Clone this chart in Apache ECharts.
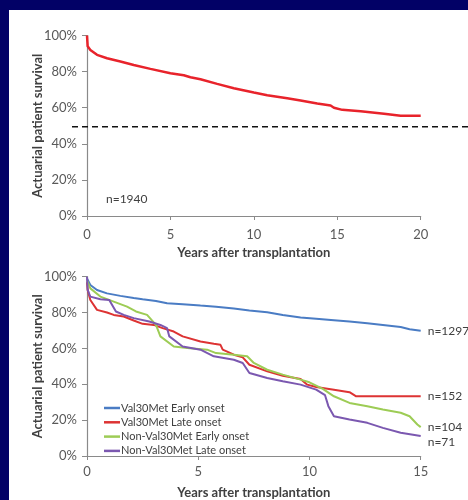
<!DOCTYPE html>
<html>
<head>
<meta charset="utf-8">
<script src="https://cdn.jsdelivr.net/npm/echarts@6/dist/echarts.min.js"></script>
<style>
  html, body { margin: 0; padding: 0; background: #020166; }
  #panel { position: absolute; left: 9px; top: 10px; width: 459px; height: 490px; background: #fff; }
  #chart { position: absolute; left: 0; top: 0; width: 468px; height: 500px; }
</style>
</head>
<body>
<div id="panel"></div>
<div id="chart"></div>
<script>
// top panel: all patients
const allYears = [0, 0.04, 0.2, 0.6, 1.2, 2.0, 2.8, 3.8, 5.0, 5.8, 6.2, 6.8, 7.8, 8.8, 10, 10.8, 12, 12.8, 13.8, 14.6, 14.8, 15.3, 16.4, 17.8, 18.8, 20]
const allSurvival = [100, 94, 92, 89.3, 87.4, 85.6, 83.7, 81.5, 79.1, 78, 76.9, 75.8, 73.2, 70.8, 68.4, 66.9, 65.2, 64, 62.3, 61.2, 60, 58.8, 58, 56.6, 55.5, 55.5]
const refLevel = 49.4

// bottom panel: subgroups
const blueYears = [0, 0.15, 0.45, 0.9, 1.5, 2.1, 2.5, 3.1, 3.6, 4.3, 5.1, 5.8, 6.6, 7.3, 8.1, 8.8, 9.6, 10.3, 11.1, 11.8, 12.6, 13.3, 14.1, 14.5, 15]
const blueSurv = [99, 95.4, 92.6, 90.7, 89.3, 88.1, 87.4, 86.5, 85.2, 84.6, 83.9, 83.3, 82.2, 81.1, 80.2, 78.7, 77.2, 76.5, 75.7, 75, 74.1, 73.1, 71.9, 70.7, 69.8]
const redYears = [0, 0.03, 0.15, 0.45, 0.9, 1.2, 1.65, 2.1, 2.5, 3.0, 3.4, 3.9, 4.3, 5.1, 5.7, 6.0, 6.1, 6.6, 7.0, 7.3, 8.1, 8.8, 9.6, 9.9, 10.3, 11.1, 11.8, 12.1, 12.6, 15]
const redSurv = [97, 92.6, 87, 81.5, 80, 78.7, 77.8, 75.6, 73.7, 73.1, 71.3, 69.4, 66.7, 63.9, 62.6, 62, 59.3, 56.5, 55, 50.9, 47.2, 44.8, 43, 39.8, 38.5, 37, 35.6, 33.3, 33.3, 33.3]
const greenYears = [0, 0.15, 0.6, 1.2, 1.8, 2.2, 2.7, 3.1, 3.3, 3.9, 4.5, 5.4, 5.8, 6.6, 7.2, 7.5, 8.1, 8.8, 9.6, 10.0, 10.6, 11.1, 11.8, 12.6, 13.3, 14.1, 14.5, 14.85, 15]
const greenSurv = [98, 93.5, 88.9, 86.1, 83.3, 80.6, 78.7, 73.1, 66.7, 61.1, 60.2, 59.3, 57.4, 56.5, 55.6, 51.9, 48.1, 45.4, 42.6, 41.1, 37.4, 33.3, 29.6, 27.8, 25.9, 24.1, 22.2, 17.6, 16.1]
const purpleYears = [0, 0.03, 0.15, 0.6, 1.0, 1.3, 1.65, 2.1, 2.8, 3.3, 3.6, 3.7, 4.3, 5.1, 5.7, 6.6, 7.0, 7.3, 8.1, 8.8, 9.6, 10.3, 10.7, 10.85, 11.1, 11.8, 12.6, 13.3, 14.1, 15]
const purpleSurv = [100, 92.6, 88.9, 87.4, 87, 80.6, 78.7, 76.9, 75, 73.1, 71.3, 66.7, 61.1, 59.3, 55.6, 53.7, 51.9, 46.3, 43.5, 41.7, 39.8, 37, 33.9, 27.8, 22.2, 20.4, 18.5, 15.7, 13, 11.1]

const groupNames = ['Val30Met Early onset', 'Val30Met Late onset', 'Non-Val30Met Early onset', 'Non-Val30Met Late onset']
const groupCounts = ['n=1297', 'n=152', 'n=104', 'n=71']
const groupColors = ['#4a7cc4', '#dd3333', '#9dcc55', '#7b58b0']

const pairs = (xs, ys) => xs.map((x, i) => [x, ys[i]])

const font = 'Lato, "Open Sans", sans-serif'
const axisColor = '#8a8a8a'
const labelColor = '#595959'

function xAxisCfg(gridIndex, max, labelMargin) {
  return {
    type: 'value', gridIndex, min: 0, max, interval: 5,
    name: 'Years after transplantation', nameLocation: 'middle', nameGap: 30,
    nameTextStyle: { fontFamily: font, fontSize: 13, fontWeight: 'bold', color: '#404040' },
    axisLine: { lineStyle: { color: axisColor, width: 1.2 } },
    axisTick: { show: true, length: 4, lineStyle: { color: axisColor } },
    axisLabel: { fontFamily: font, fontSize: 13, color: labelColor, margin: labelMargin },
    splitLine: { show: false },
  }
}

function yAxisCfg(gridIndex) {
  return {
    type: 'value', gridIndex, min: 0, max: 100, interval: 20,
    name: 'Actuarial patient survival', nameLocation: 'middle', nameGap: 43,
    nameMoveOverlap: false,
    nameTextStyle: { fontFamily: font, fontSize: 13, fontWeight: 'bold', color: '#404040' },
    axisLine: { show: true, lineStyle: { color: axisColor, width: 1.2 } },
    axisTick: { show: true, length: 5, lineStyle: { color: axisColor } },
    axisLabel: { fontFamily: font, fontSize: 13, color: labelColor, margin: 10, formatter: '{value}%' },
    splitLine: { show: false },
  }
}

const chart = echarts.init(document.getElementById('chart'))

const groupSeries = [
  [blueYears, blueSurv], [redYears, redSurv], [greenYears, greenSurv], [purpleYears, purpleSurv],
].map(([xs, ys], i) => ({
  type: 'line', name: groupNames[i], xAxisIndex: 2, yAxisIndex: 2,
  data: pairs(xs, ys), symbol: 'none', silent: true,
  lineStyle: { color: groupColors[i], width: 2 },
  itemStyle: { color: groupColors[i] },
  endLabel: {
    show: true, formatter: groupCounts[i], distance: 7,
    fontFamily: font, fontSize: 12, color: '#404040',
    offset: i === 3 ? [0, 6] : [0, 0],
  },
}))

chart.setOption({
  animation: false,
  title: {
    text: 'n=1940', left: 101, top: 188,
    textStyle: { fontFamily: font, fontSize: 12, fontWeight: 'normal', color: '#404040' },
  },
  legend: {
    data: groupNames, orient: 'vertical', left: 99, top: 397,
    icon: 'rect', itemWidth: 16, itemHeight: 2.5, itemGap: 2.3,
    textStyle: { fontFamily: font, fontSize: 11, color: '#404040', lineHeight: 12, padding: [0, 0, 0, -4] },
  },
  grid: [
    { left: 87, top: 35.5, width: 333.7, height: 180.5 },
    { left: 72, top: 35.5, right: 0, height: 180.5 },
    { left: 87, top: 276.7, width: 333.7, height: 180 },
  ],
  xAxis: [
    xAxisCfg(0, 20, 12),
    { type: 'value', gridIndex: 1, min: 0, max: 1, show: false },
    xAxisCfg(2, 15, 9),
  ],
  yAxis: [
    yAxisCfg(0),
    { type: 'value', gridIndex: 1, min: 0, max: 100, show: false },
    yAxisCfg(2),
  ],
  series: [
    {
      type: 'line', xAxisIndex: 0, yAxisIndex: 0, data: pairs(allYears, allSurvival),
      symbol: 'none', silent: true, lineStyle: { color: '#e8232b', width: 2.5 },
    },
    {
      type: 'line', xAxisIndex: 1, yAxisIndex: 1, data: [[0, refLevel], [1, refLevel]],
      symbol: 'none', silent: true, lineStyle: { color: '#111', width: 1.5, type: [6, 4] },
    },
    ...groupSeries,
  ],
})
</script>
</body>
</html>
